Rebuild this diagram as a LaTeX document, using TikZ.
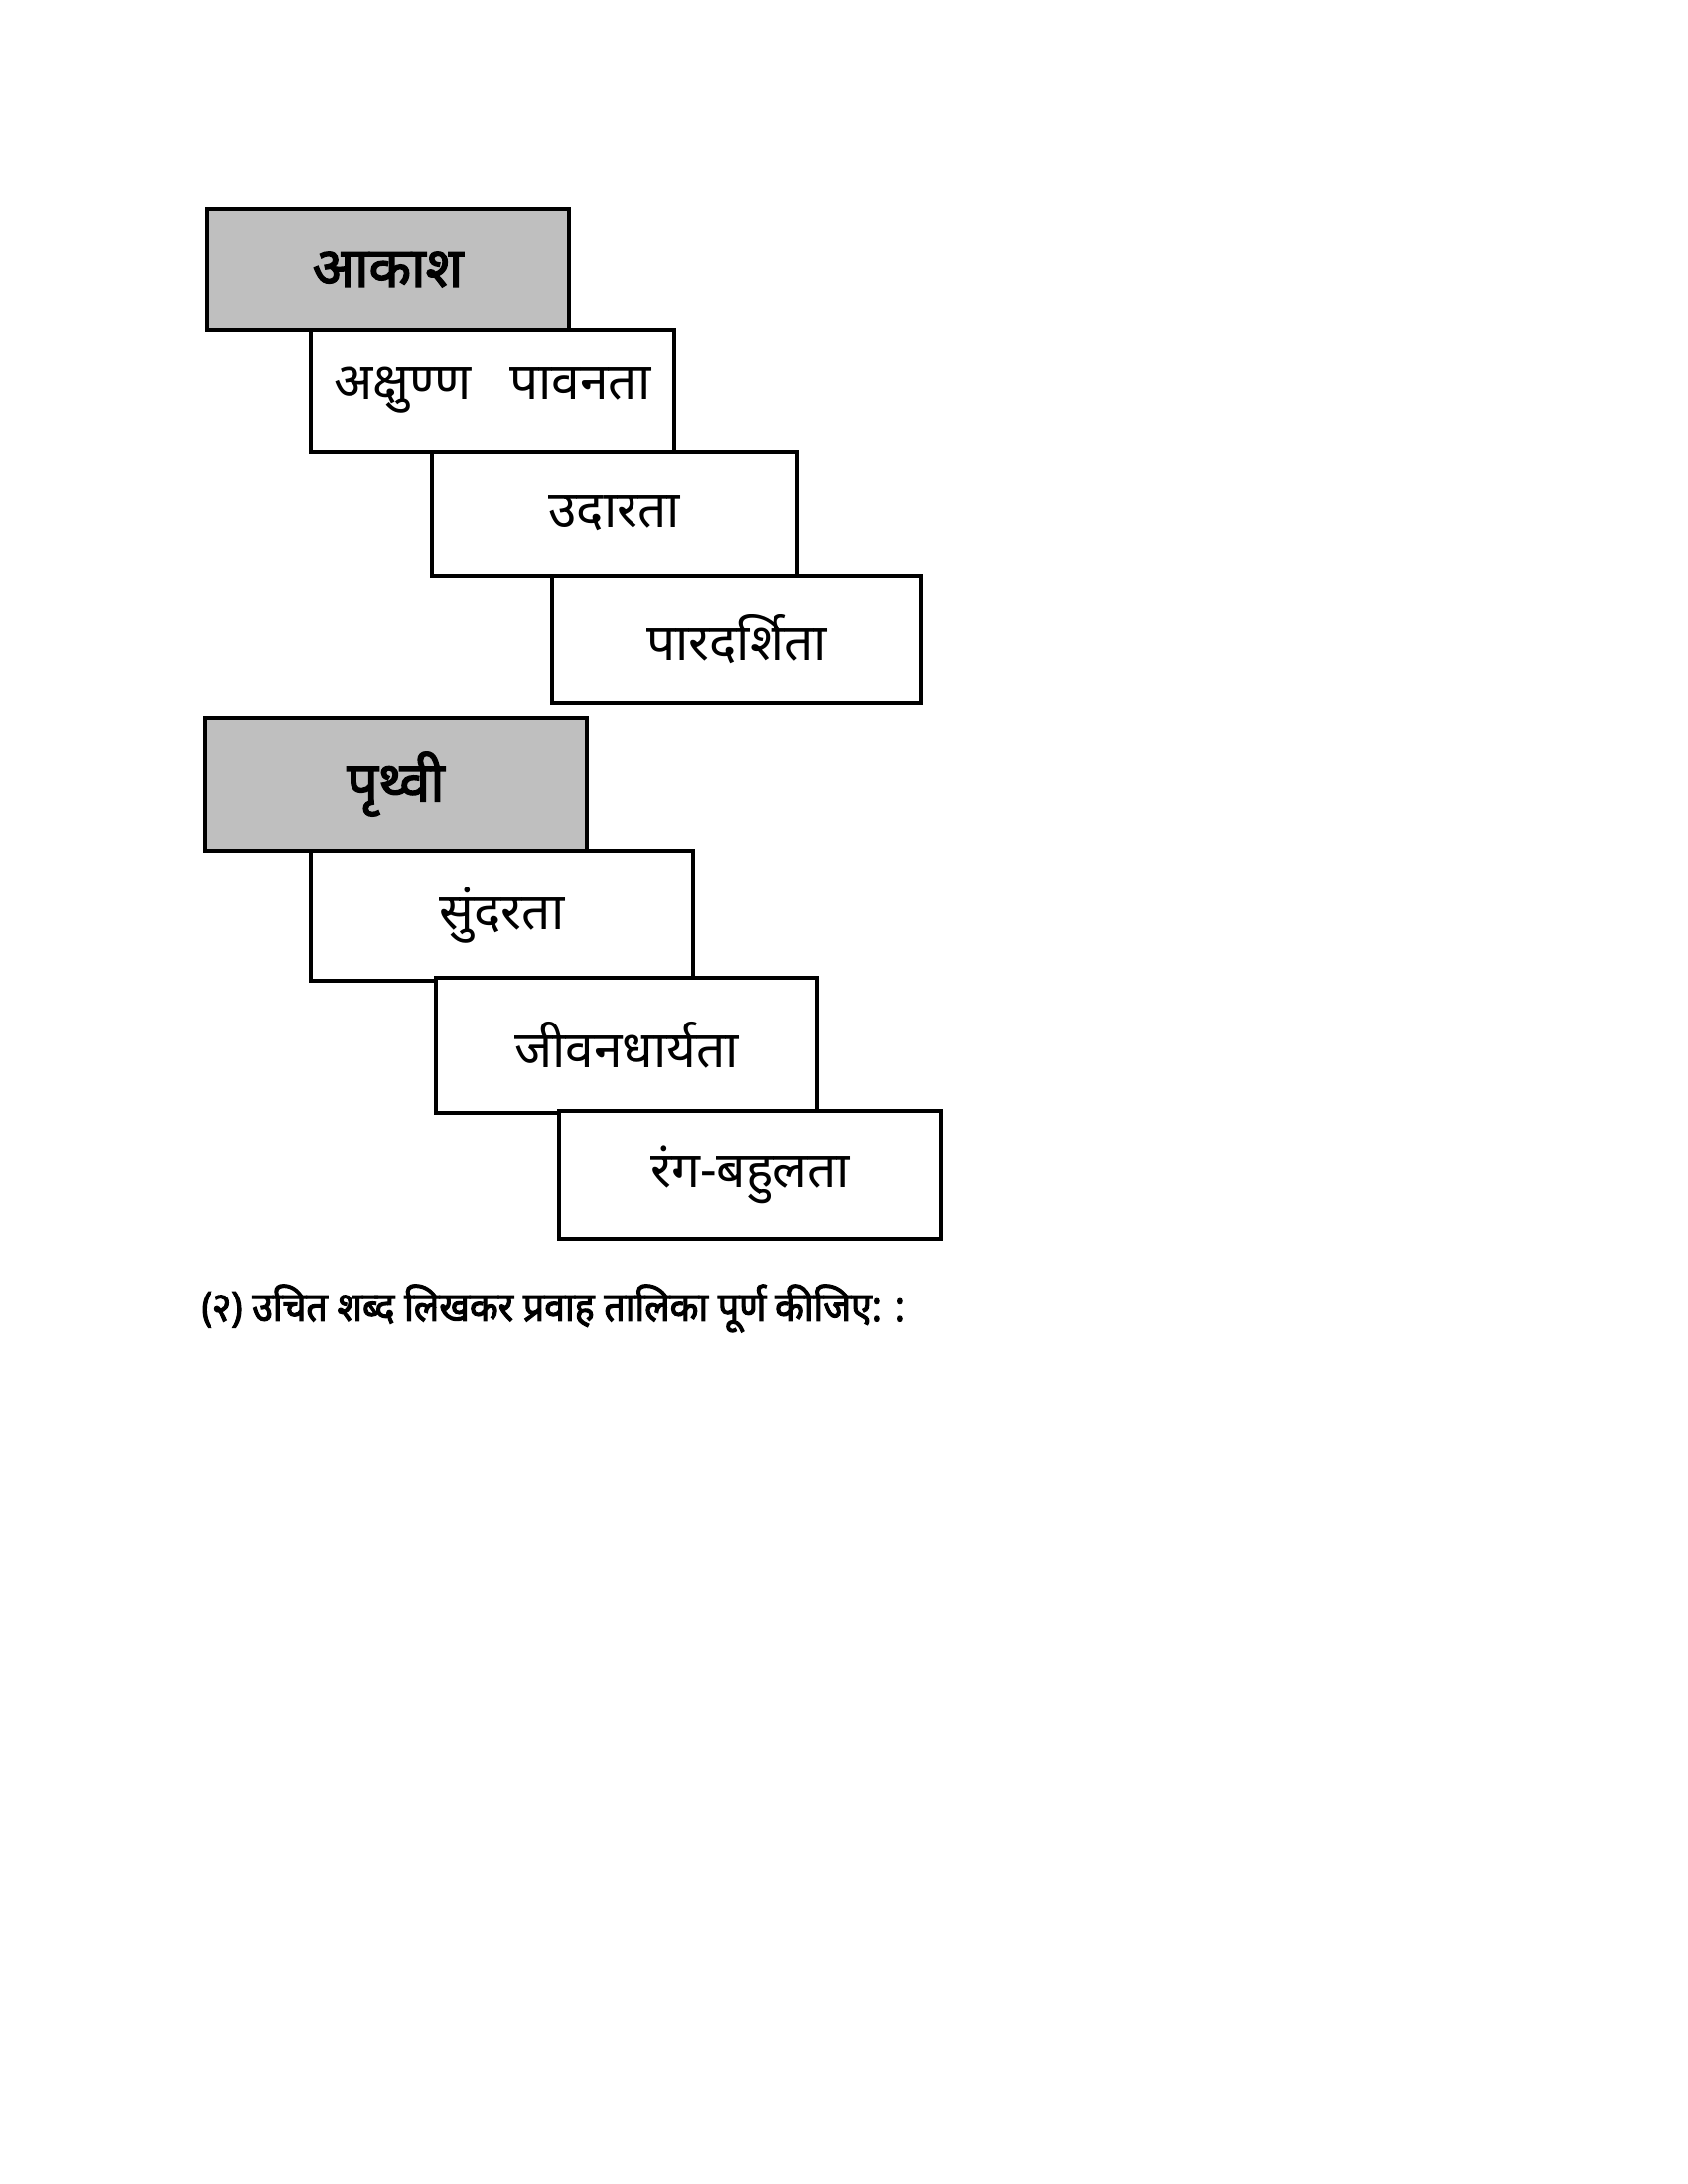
\documentclass[tikz,border=0pt]{standalone}
\usepackage{fontspec}
\newfontfamily\deva[Script=Devanagari]{Noto Sans}
\newfontfamily\devabold[Script=Devanagari, FakeBold=2.5]{Noto Sans}
\newfontfamily\devatask[Script=Devanagari, FakeBold=2.5, FakeStretch=0.9]{Noto Sans}
\tikzset{
    headbox/.style = {draw, line width = 1.3pt, fill = black!25},
    itembox/.style = {draw, line width = 1.1pt, fill = white},
    headtext/.style = {font = \devabold\fontsize{20}{23}\selectfont},
    itemtext/.style = {font = \deva\fontsize{18.5}{21}\selectfont},
}
\begin{document}
\begin{tikzpicture}[x = 0.36pt, y = -0.36pt]
    \useasboundingbox (0, 0) rectangle (1700, 2200);

    % aakash
    \draw[headbox] (208, 211) rectangle (573, 332);
    \node[headtext] (akash) at (390.5, 271.5) {आकाश};
    \draw[itembox] (313, 332) rectangle (679, 455);
    \node[itemtext] (akshunn) at (496, 393.5) {अक्षुण्ण\hspace{0.5em} पावनता};
    \draw[itembox] (435, 455) rectangle (803, 580);
    \node[itemtext] (udarta) at (619, 517.5) {उदारता};
    \draw[itembox] (556, 580) rectangle (928, 708);
    \node[itemtext] (pardarshita) at (742, 644) {पारदर्शिता};

    % prithvi
    \draw[headbox] (206, 723) rectangle (591, 857);
    \node[headtext] (prithvi) at (398.5, 790) {पृथ्वी};
    \draw[itembox] (313, 857) rectangle (698, 988);
    \node[itemtext] (sundarta) at (505.5, 922.5) {सुंदरता};
    \draw[itembox] (439, 985) rectangle (823, 1121);
    \node[itemtext] (jivan) at (631, 1053) {जीवनधार्यता};
    \draw[itembox] (563, 1119) rectangle (948, 1248);
    \node[itemtext] (rang) at (755.5, 1183.5) {रंग-बहुलता};

    \node[anchor = west, inner sep = 0pt, font = \devatask\fontsize{15}{17}\selectfont] (task) at (202, 1318) {(२) उचित शब्द लिखकर प्रवाह तालिका पूर्ण कीजिए: :};
\end{tikzpicture}
\end{document}
